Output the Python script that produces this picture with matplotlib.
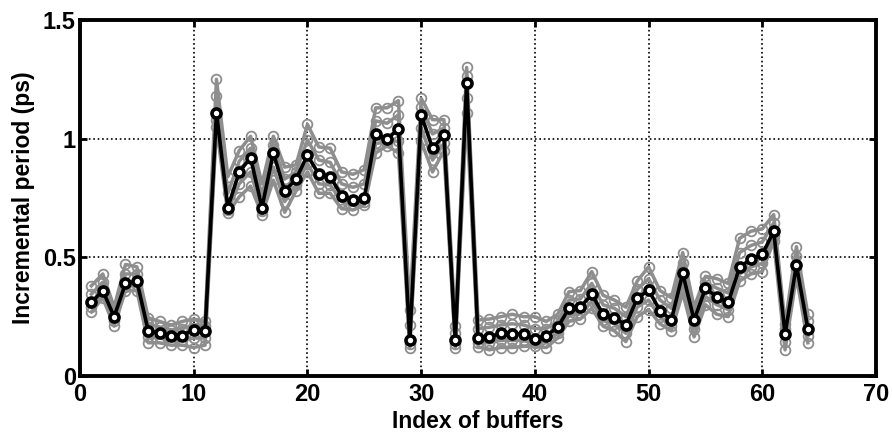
import matplotlib.pyplot as plt
import numpy as np

# buffer index
idx = list(range(1, 65))

# mean incremental period (ps)
mean_ps = [0.31, 0.36, 0.25, 0.39, 0.40, 0.19, 0.18, 0.17, 0.17, 0.195, 0.19,
           1.11, 0.71, 0.86, 0.92, 0.71, 0.94, 0.78, 0.83, 0.93, 0.85, 0.84,
           0.76, 0.74, 0.75, 1.02, 1.00, 1.04, 0.15, 1.10, 0.96, 1.015, 0.15,
           1.235, 0.16, 0.165, 0.18, 0.178, 0.178, 0.154, 0.17, 0.205, 0.285,
           0.29, 0.344, 0.26, 0.245, 0.215, 0.327, 0.362, 0.275, 0.236, 0.432,
           0.236, 0.369, 0.334, 0.31, 0.458, 0.493, 0.512, 0.61, 0.177, 0.467,
           0.20]

# individual runs (gray)
run_lo = [0.27, 0.33, 0.21, 0.36, 0.36, 0.14, 0.14, 0.13, 0.13, 0.12, 0.13,
          1.05, 0.685, 0.755, 0.80, 0.68, 0.825, 0.69, 0.78, 0.86, 0.77, 0.77,
          0.705, 0.70, 0.72, 0.94, 0.97, 0.94, 0.12, 0.99, 0.86, 0.95, 0.12,
          1.11, 0.123, 0.11, 0.12, 0.12, 0.125, 0.125, 0.12, 0.16, 0.23,
          0.24, 0.285, 0.21, 0.19, 0.145, 0.25, 0.28, 0.22, 0.19, 0.35,
          0.165, 0.30, 0.26, 0.25, 0.40, 0.43, 0.44, 0.57, 0.11, 0.42, 0.14]
run_b = [0.29, 0.345, 0.23, 0.375, 0.385, 0.165, 0.16, 0.15, 0.15, 0.16, 0.16,
         1.08, 0.70, 0.81, 0.86, 0.695, 0.88, 0.735, 0.805, 0.895, 0.81, 0.805,
         0.735, 0.72, 0.735, 0.98, 0.985, 0.99, 0.135, 1.045, 0.91, 0.98, 0.135,
         1.17, 0.14, 0.14, 0.15, 0.15, 0.15, 0.14, 0.145, 0.18, 0.255,
         0.265, 0.315, 0.235, 0.22, 0.18, 0.29, 0.32, 0.25, 0.21, 0.39,
         0.20, 0.335, 0.30, 0.28, 0.43, 0.46, 0.475, 0.59, 0.145, 0.445, 0.17]
run_a = [0.345, 0.395, 0.27, 0.43, 0.43, 0.22, 0.205, 0.195, 0.20, 0.215, 0.21,
         1.18, 0.77, 0.905, 0.96, 0.76, 0.975, 0.83, 0.86, 0.995, 0.91, 0.90,
         0.81, 0.795, 0.81, 1.075, 1.065, 1.10, 0.215, 1.135, 1.02, 1.045, 0.18,
         1.265, 0.20, 0.205, 0.215, 0.22, 0.215, 0.20, 0.20, 0.23, 0.32,
         0.325, 0.39, 0.30, 0.285, 0.25, 0.365, 0.41, 0.32, 0.285, 0.475,
         0.265, 0.395, 0.37, 0.35, 0.52, 0.55, 0.565, 0.645, 0.20, 0.505, 0.23]
run_hi = [0.38, 0.43, 0.29, 0.47, 0.46, 0.245, 0.23, 0.215, 0.23, 0.24, 0.23,
          1.25, 0.84, 0.95, 1.01, 0.81, 1.01, 0.88, 0.89, 1.06, 0.965, 0.96,
          0.86, 0.85, 0.87, 1.13, 1.13, 1.16, 0.28, 1.17, 1.08, 1.08, 0.21,
          1.30, 0.236, 0.24, 0.25, 0.26, 0.25, 0.25, 0.23, 0.26, 0.355,
          0.36, 0.44, 0.34, 0.32, 0.29, 0.40, 0.46, 0.36, 0.33, 0.52,
          0.29, 0.42, 0.41, 0.39, 0.58, 0.61, 0.62, 0.68, 0.22, 0.545, 0.26]

runs = [run_lo, run_b, run_a, run_hi]

plt.rcParams['font.family'] = ['Liberation Sans', 'DejaVu Sans']

fig = plt.figure(figsize=(8.92, 4.41), dpi=100)
ax = fig.add_axes([0.0897, 0.1474, 0.8924, 0.8072])

# gray runs
for r in runs:
    ax.plot(idx, r, '-o', color='#8e8e8e', lw=2.5, ms=7, mfc='none',
            mec='#8e8e8e', mew=1.3, zorder=2)

# mean curve
ax.plot(idx, mean_ps, '-o', color='black', lw=2.6, ms=6.5, mfc='white',
        mec='black', mew=2.6, zorder=3)

ax.set_xlim(0, 70)
ax.set_ylim(0, 1.5)
ax.set_xticks(np.arange(0, 71, 10))
ax.set_yticks([0, 0.5, 1, 1.5])
ax.set_yticklabels(['0', '0.5', '1', '1.5'])

ax.grid(True, color='black', linestyle=':', linewidth=1.2)
ax.set_axisbelow(True)

for s in ax.spines.values():
    s.set_linewidth(2.8)

ax.tick_params(direction='in', length=5, width=2, top=True, right=True,
               labelsize=17)
ax.tick_params(axis='x', pad=5)
ax.tick_params(axis='y', pad=3)
for lab in ax.get_xticklabels() + ax.get_yticklabels():
    lab.set_fontweight('bold')

ax.set_xlabel('Index of buffers', fontsize=16.5, fontweight='bold', labelpad=3)
ax.set_ylabel('Incremental period (ps)', fontsize=16.5, fontweight='bold', labelpad=6)

plt.savefig('out.png', dpi=100)
